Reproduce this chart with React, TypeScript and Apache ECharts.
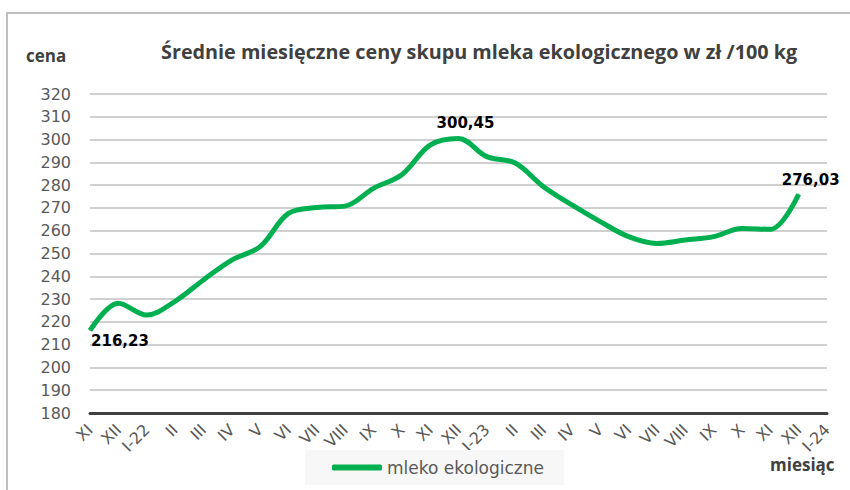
import React, { useEffect, useRef } from "react";
import * as echarts from "echarts";

const categories = [
  "XI", "XII", "I-22", "II", "III", "IV", "V", "VI", "VII", "VIII", "IX", "X", "XI",
  "XII", "I-23", "II", "III", "IV", "V", "VI", "VII", "VIII", "IX", "X", "XI", "XII", "I-24",
];

const prices = [
  216.23, 228.2, 223.0, 229.0, 238.4, 247.1, 253.0, 267.6, 270.2, 270.8, 278.6, 284.6, 297.6,
  300.45, 292.5, 289.7, 279.3, 271.3, 264.0, 257.4, 254.4, 255.9, 257.4, 261.0, 260.6, 276.03,
];

const yTicks = { min: 180, max: 320, interval: 10 };

const labelled = [0, 13, 25];

export default function App() {
  const ref = useRef<HTMLDivElement>(null);

  useEffect(() => {
    if (!ref.current) return;
    const chart = echarts.init(ref.current, undefined, { renderer: "svg" });

    const labelCfg: Record<number, any> = {
      0: { position: "bottom", offset: [30, -2] },
      13: { position: "top", offset: [7, -3] },
      25: { position: "top", offset: [12, -1] },
    };

    const data = prices.map((v, i) => {
      if (labelled.includes(i)) {
        return {
          value: v,
          symbol: "circle",
          symbolSize: 1,
          label: {
            show: true,
            ...labelCfg[i],
            formatter: (p: any) => String(p.value).replace(".", ","),
            fontFamily: "DejaVu Sans",
            fontWeight: "bold",
            fontSize: 15,
            color: "#000000",
          },
        };
      }
      return { value: v, symbol: "none" };
    });

    chart.setOption({
      animation: false,
      backgroundColor: "#ffffff",
      title: {
        text: "Średnie miesięczne ceny skupu mleka ekologicznego w zł /100 kg",
        left: 156,
        top: 36,
        textStyle: {
          fontFamily: "Open Sans",
          fontWeight: "bold",
          fontSize: 19.8,
          color: "#404040",
        },
      },
      legend: {
        left: 305,
        top: 450,
        padding: [9, 20, 9, 27],
        backgroundColor: "#f7f7f7",
        itemWidth: 50,
        itemHeight: 6,
        icon: "roundRect",
        textStyle: { fontFamily: "DejaVu Sans", fontSize: 17, color: "#595959" },
        data: ["mleko ekologiczne"],
      },
      grid: { left: 90, right: 23, top: 94, bottom: 77, containLabel: false },
      xAxis: {
        type: "category",
        data: categories,
        boundaryGap: false,
        axisLine: { show: true, lineStyle: { color: "#404040", width: 3 } },
        axisTick: { show: false },
        axisLabel: {
          interval: 0,
          rotate: 45,
          margin: 14,
          fontFamily: "DejaVu Sans",
          fontSize: 16,
          color: "#595959",
        },
        splitLine: { show: false },
      },
      yAxis: {
        type: "value",
        min: yTicks.min,
        max: yTicks.max,
        interval: yTicks.interval,
        axisLine: { show: false },
        axisTick: { show: false },
        axisLabel: {
          margin: 19,
          fontFamily: "DejaVu Sans",
          fontSize: 16,
          color: "#595959",
        },
        splitLine: { lineStyle: { color: "#d0d0d0", width: 2 } },
      },
      series: [
        {
          name: "mleko ekologiczne",
          type: "line",
          data,
          smooth: 0.35,
          showSymbol: true,
          lineStyle: { color: "#00b050", width: 5 },
          itemStyle: { color: "#00b050" },
          emphasis: { disabled: true },
        },
      ],
      graphic: [
        {
          type: "rect",
          shape: { x: 7, y: 13, width: 860, height: 490 },
          style: { fill: "none", stroke: "#bfbfbf", lineWidth: 2 },
          silent: true,
          z: -1,
        },
        {
          type: "text",
          left: 26,
          top: 47,
          style: {
            text: "cena",
            fontFamily: "Open Sans",
            fontWeight: "bold",
            fontSize: 17,
            fill: "#404040",
          },
        },
        {
          type: "text",
          left: 770,
          top: 456,
          style: {
            text: "miesiąc",
            fontFamily: "Open Sans",
            fontWeight: "bold",
            fontSize: 17,
            fill: "#404040",
          },
        },
      ],
    });

    return () => chart.dispose();
  }, []);

  return <div ref={ref} style={{ width: 850, height: 490, position: "absolute", left: 0, top: 0 }} />;
}
